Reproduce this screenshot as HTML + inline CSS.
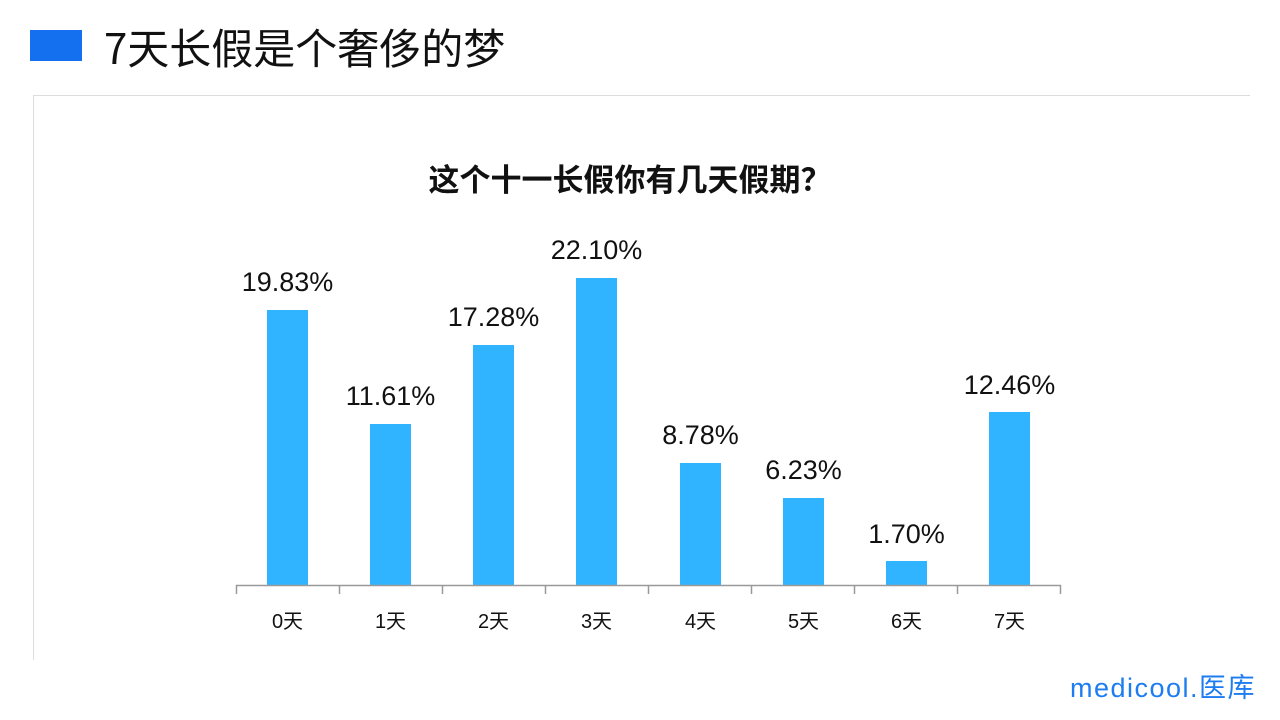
<!DOCTYPE html>
<html><head><meta charset="utf-8"><style>
html,body{margin:0;padding:0;background:#fff;}
body{width:1280px;height:720px;position:relative;overflow:hidden;font-family:"Liberation Sans","Noto Sans CJK SC",sans-serif;}
.abs{position:absolute;}
</style></head><body>
<div class="abs" style="left:30px;top:30px;width:52px;height:31px;background:#1570ef"></div>
<div class="abs" style="left:104px;top:19px;font-size:42px;color:#111;line-height:56px;font-family:'Noto Sans CJK SC',sans-serif;">7天长假是个奢侈的梦</div>
<div class="abs" style="left:33px;top:95px;width:1216px;height:564px;border-left:1px solid #ddd;border-top:1px solid #ddd;"></div>
<svg class="abs" style="left:0;top:0" width="1280" height="720">
<text x="630" y="191" text-anchor="middle" font-size="31" font-weight="bold" fill="#111" font-family="Noto Sans CJK SC,sans-serif">这个十一长假你有几天假期？</text>
<g fill="#31b4ff">
<rect x="267" y="310" width="41" height="275"/>
<rect x="370" y="424" width="41" height="161"/>
<rect x="473" y="345" width="41" height="240"/>
<rect x="576" y="278" width="41" height="307"/>
<rect x="680" y="463" width="41" height="122"/>
<rect x="783" y="498" width="41" height="87"/>
<rect x="886" y="561" width="41" height="24"/>
<rect x="989" y="412" width="41" height="173"/>
</g>
<g font-size="27" fill="#111" text-anchor="middle" font-family="Liberation Sans,sans-serif">
<text x="287.5" y="291">19.83%</text>
<text x="390.5" y="405">11.61%</text>
<text x="493.5" y="326">17.28%</text>
<text x="596.5" y="259">22.10%</text>
<text x="700.5" y="444">8.78%</text>
<text x="803.5" y="479">6.23%</text>
<text x="906.5" y="543">1.70%</text>
<text x="1009.5" y="394">12.46%</text>
</g>
<g stroke="#999" stroke-width="1.5">
<line x1="236" y1="585.5" x2="1061" y2="585.5"/>
<line x1="236.5" y1="585" x2="236.5" y2="594"/>
<line x1="339.5" y1="585" x2="339.5" y2="594"/>
<line x1="442.5" y1="585" x2="442.5" y2="594"/>
<line x1="545.5" y1="585" x2="545.5" y2="594"/>
<line x1="648.5" y1="585" x2="648.5" y2="594"/>
<line x1="751.5" y1="585" x2="751.5" y2="594"/>
<line x1="854.5" y1="585" x2="854.5" y2="594"/>
<line x1="957.5" y1="585" x2="957.5" y2="594"/>
<line x1="1060.5" y1="585" x2="1060.5" y2="594"/>
</g>
<g font-size="20" fill="#111" text-anchor="middle" font-family="Liberation Sans,Noto Sans CJK SC,sans-serif">
<text x="287.5" y="628">0天</text>
<text x="390.5" y="628">1天</text>
<text x="493.5" y="628">2天</text>
<text x="596.5" y="628">3天</text>
<text x="700.5" y="628">4天</text>
<text x="803.5" y="628">5天</text>
<text x="906.5" y="628">6天</text>
<text x="1009.5" y="628">7天</text>
</g>
<text x="1070" y="697" font-size="27" letter-spacing="1.5" fill="#1c7cf0" font-family="Liberation Sans,Noto Sans CJK SC,sans-serif">medicool.医库</text>
</svg>
</body></html>
